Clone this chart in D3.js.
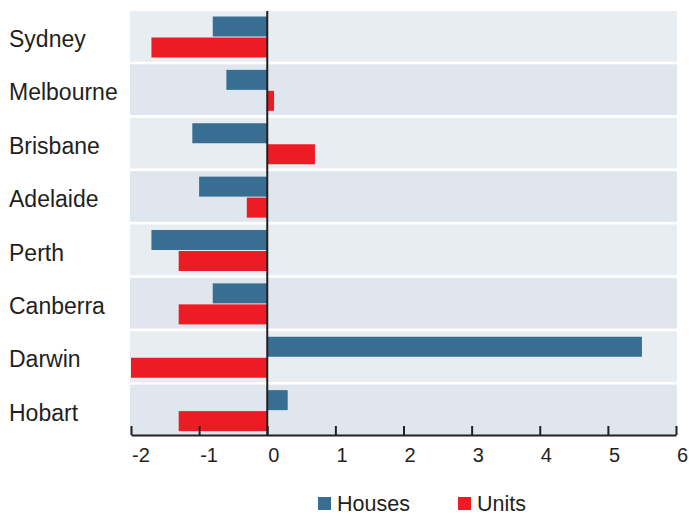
<!DOCTYPE html>
<html>
<head>
<meta charset="utf-8">
<script src="https://cdn.jsdelivr.net/npm/d3@7"></script>
<style>
  html, body { margin: 0; padding: 0; background: #fff; }
  svg { display: block; font-family: "Liberation Sans", Arial, Helvetica, sans-serif; }
</style>
</head>
<body>
<svg id="chart" width="689" height="516"></svg>
<script>
const categories = ["Sydney", "Melbourne", "Brisbane", "Adelaide", "Perth", "Canberra", "Darwin", "Hobart"];
const houses = [-0.8, -0.6, -1.1, -1.0, -1.7, -0.8, 5.5, 0.3];
const units  = [-1.7, 0.1, 0.7, -0.3, -1.3, -1.3, -2.0, -1.3];
const tickValues = [-2, -1, 0, 1, 2, 3, 4, 5, 6];
const tickLabels = ["-2", "-1", "0", "1", "2", "3", "4", "5", "6"];
const seriesNames = ["Houses", "Units"];
const colors = ["#386e91", "#ed1c24"];

const svg = d3.select("#chart");

const x = d3.scaleLinear().domain([-2, 6]).range([131, 676]);
const y = d3.scaleBand().domain(categories).range([11, 438]).paddingInner(0).paddingOuter(0);
const step = y.step();
const plotLeft = 130, plotRight = 677, axisY = 435;

// row backgrounds
svg.append("g").selectAll("rect").data(categories).join("rect")
  .attr("x", plotLeft)
  .attr("y", d => y(d))
  .attr("width", plotRight - plotLeft)
  .attr("height", (d, i) => Math.min(step - 2.7, axisY - y(d)))
  .attr("fill", (d, i) => i % 2 === 0 ? "#e8edf2" : "#dfe6ed");

// bars
const barH = 20;
const series = [houses, units];
series.forEach((vals, s) => {
  svg.append("g").selectAll("rect").data(categories).join("rect")
    .attr("x", (d, i) => x(Math.min(0, vals[i])))
    .attr("y", d => y(d) + 5.5 + s * (barH + 1))
    .attr("width", (d, i) => Math.abs(x(vals[i]) - x(0)))
    .attr("height", barH)
    .attr("fill", colors[s]);
});

// zero line
svg.append("line")
  .attr("x1", x(0)).attr("x2", x(0))
  .attr("y1", 11).attr("y2", axisY)
  .attr("stroke", "#231f20").attr("stroke-width", 2);

// x axis
const axis = d3.axisBottom(x)
  .tickValues(tickValues)
  .tickSize(-9)
  .tickSizeOuter(0)
  .tickFormat((d, i) => tickLabels[i]);
const ax = svg.append("g").attr("transform", `translate(0,${axisY})`).call(axis);
ax.select(".domain").attr("stroke", "#231f20").attr("stroke-width", 2);
ax.selectAll(".tick line").attr("stroke", "#231f20").attr("stroke-width", 2);
ax.selectAll(".tick text")
  .attr("fill", "#231f20")
  .attr("font-size", 20)
  .attr("font-family", "'Liberation Sans', Arial, sans-serif")
  .attr("text-anchor", "start")
  .attr("x", 0.5)
  .attr("y", 27)
  .attr("dy", 0);

// category labels
svg.append("g").selectAll("text").data(categories).join("text")
  .attr("x", 9)
  .attr("y", d => y(d) + 5.5 + barH + 10.5)
  .attr("font-size", 23)
  .attr("fill", "#231f20")
  .text(d => d);

// legend
const legendX = [318, 458];
seriesNames.forEach((name, s) => {
  svg.append("rect")
    .attr("x", legendX[s]).attr("y", 497)
    .attr("width", 13).attr("height", 13)
    .attr("fill", colors[s]);
  svg.append("text")
    .attr("x", legendX[s] + 19).attr("y", 511)
    .attr("font-size", 21.5)
    .attr("fill", "#231f20")
    .text(name);
});
</script>
</body>
</html>
